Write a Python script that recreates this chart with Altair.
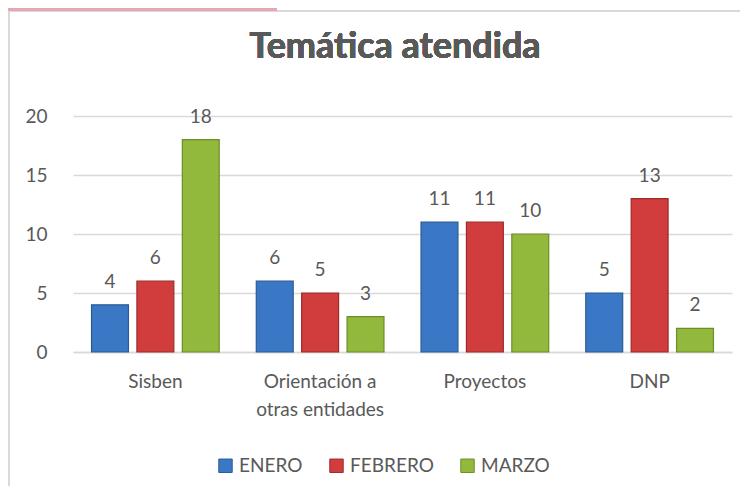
import altair as alt
import pandas as pd

categorias = ["Sisben", "Orientación a otras entidades", "Proyectos", "DNP"]
series = ["ENERO", "FEBRERO", "MARZO"]
enero = [4, 6, 11, 5]
febrero = [6, 5, 11, 13]
marzo = [18, 3, 10, 2]
colores = ["#3a78c6", "#d13c3c", "#92b93c"]
bordes = ["#2a5a94", "#9e2a2a", "#6d8c2a"]
titulo = "Temática atendida"

rows = []
for s, vals in zip(series, [enero, febrero, marzo]):
    for c, v in zip(categorias, vals):
        rows.append({"cat": c, "serie": s, "valor": v})
df = pd.DataFrame(rows)

FONT = "Lato"
TXT = "#595959"
W, H = 659, 236

x_enc = alt.X("cat:N", sort=categorias, title=None,
              scale=alt.Scale(paddingInner=0.225, paddingOuter=0.1125),
              axis=alt.Axis(labelAngle=0, labelFont=FONT, labelFontSize=19, labelColor=TXT,
                            labelPadding=20, labelLineHeight=28, ticks=False,
                            domainColor="#d9d9d9", domainWidth=1.5,
                            labelExpr="datum.label == 'Orientación a otras entidades' ? ['Orientación a', 'otras entidades'] : datum.label"))
xo_enc = alt.XOffset("serie:N", sort=series, scale=alt.Scale(paddingInner=0.187, paddingOuter=0))
y_enc = alt.Y("valor:Q", title=None,
              scale=alt.Scale(domain=[0, 20], nice=False),
              axis=alt.Axis(values=[0, 5, 10, 15, 20], labelFont=FONT, labelFontSize=19,
                            labelColor=TXT, labelPadding=26, ticks=False, domain=False,
                            gridColor="#d9d9d9", gridWidth=1.5))

bars = alt.Chart(df).mark_bar(strokeWidth=1.2).encode(
    x=x_enc, xOffset=xo_enc, y=y_enc,
    color=alt.Color("serie:N", sort=series, scale=alt.Scale(domain=series, range=colores),
                    legend=alt.Legend(title=None, orient="none", direction="horizontal",
                                      legendX=143, legendY=340, symbolType="square",
                                      symbolSize=180, symbolStrokeWidth=1,
                                      labelFont=FONT, labelFontSize=19, labelColor=TXT,
                                      columnPadding=24, labelOffset=4)),
    stroke=alt.Stroke("serie:N", sort=series, scale=alt.Scale(domain=series, range=bordes), legend=None),
)

labels = alt.Chart(df).mark_text(font=FONT, fontSize=19, color=TXT, baseline="alphabetic", dy=-17).encode(
    x=alt.X("cat:N", sort=categorias), xOffset=alt.XOffset("serie:N", sort=series), y="valor:Q",
    text="valor:Q")

title_mark = alt.Chart(df).mark_text(font=FONT, fontSize=36, fontWeight="bold", color=TXT,
                                     align="center", baseline="middle").encode(
    x=alt.value(322), y=alt.value(-69), text=alt.value(titulo))

frame_top = alt.Chart(df).mark_rule(color="#d9d9d9", strokeWidth=2).encode(
    x=alt.value(-64), x2=alt.value(W + 12), y=alt.value(-105))
frame_left = alt.Chart(df).mark_rule(color="#d9d9d9", strokeWidth=2).encode(
    x=alt.value(-64), y=alt.value(-105), y2=alt.value(H + 150))
pink = alt.Chart(df).mark_rule(color="#e7a6b0", strokeWidth=3).encode(
    x=alt.value(-70), x2=alt.value(204), y=alt.value(-107))

chart = alt.layer(frame_top, frame_left, pink, title_mark, bars, labels).properties(
    width=W, height=H,
    autosize=alt.AutoSizeParams(type="none"),
    padding={"left": 65, "top": 108, "right": 8, "bottom": 134},
).configure_view(stroke=None)

chart.save("out.html", embed_options={"renderer": "svg", "actions": False})
